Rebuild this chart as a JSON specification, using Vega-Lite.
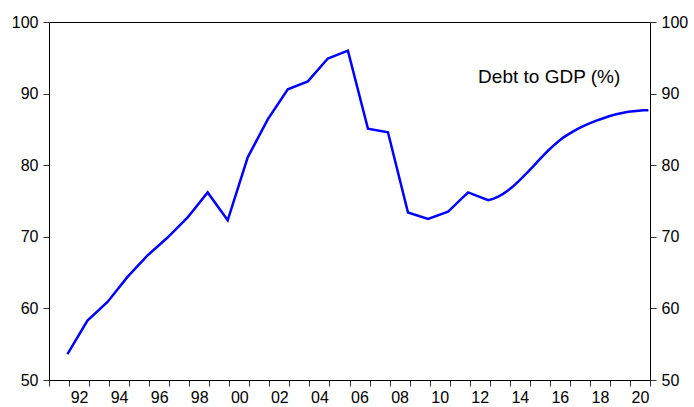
{
  "$schema": "https://vega.github.io/schema/vega-lite/v6.json",
  "width": 601,
  "height": 358,
  "autosize": {"type": "none"},
  "padding": {"left": 49, "top": 22, "right": 44, "bottom": 27},
  "background": "white",
  "config": {
    "view": {"stroke": "black", "strokeWidth": 1},
    "font": "Liberation Sans",
    "axis": {
      "labelFont": "Liberation Sans",
      "labelFontSize": 16,
      "labelColor": "black",
      "domainColor": "black",
      "tickColor": "#333333",
      "tickSize": 6,
      "grid": false,
      "title": null
    }
  },
  "datasets": {
    "debt": [
      {"t": 1991.92, "v": 53.6},
      {"t": 1992.92, "v": 58.3},
      {"t": 1993.92, "v": 60.9},
      {"t": 1994.92, "v": 64.4},
      {"t": 1995.92, "v": 67.4},
      {"t": 1996.92, "v": 69.9},
      {"t": 1997.92, "v": 72.7},
      {"t": 1998.92, "v": 76.2},
      {"t": 1999.92, "v": 72.3},
      {"t": 2000.92, "v": 81.1},
      {"t": 2001.92, "v": 86.4},
      {"t": 2002.92, "v": 90.6},
      {"t": 2003.92, "v": 91.7},
      {"t": 2004.92, "v": 94.9},
      {"t": 2005.92, "v": 96.0},
      {"t": 2006.92, "v": 85.1},
      {"t": 2007.92, "v": 84.6},
      {"t": 2008.92, "v": 73.4},
      {"t": 2009.92, "v": 72.5},
      {"t": 2010.92, "v": 73.5},
      {"t": 2011.92, "v": 76.2},
      {"t": 2012.92, "v": 75.1},
      {"t": 2013.17, "v": 75.3},
      {"t": 2013.42, "v": 75.6},
      {"t": 2013.67, "v": 76.0},
      {"t": 2013.92, "v": 76.5},
      {"t": 2014.17, "v": 77.05},
      {"t": 2014.42, "v": 77.7},
      {"t": 2014.67, "v": 78.4},
      {"t": 2014.92, "v": 79.1},
      {"t": 2015.17, "v": 79.85},
      {"t": 2015.42, "v": 80.6},
      {"t": 2015.67, "v": 81.35},
      {"t": 2015.92, "v": 82.05},
      {"t": 2016.17, "v": 82.7},
      {"t": 2016.42, "v": 83.3},
      {"t": 2016.67, "v": 83.85},
      {"t": 2016.92, "v": 84.3},
      {"t": 2017.17, "v": 84.72},
      {"t": 2017.42, "v": 85.1},
      {"t": 2017.67, "v": 85.45},
      {"t": 2017.92, "v": 85.77},
      {"t": 2018.17, "v": 86.06},
      {"t": 2018.42, "v": 86.32},
      {"t": 2018.67, "v": 86.56},
      {"t": 2018.92, "v": 86.8},
      {"t": 2019.17, "v": 87.0},
      {"t": 2019.42, "v": 87.18},
      {"t": 2019.67, "v": 87.33},
      {"t": 2019.92, "v": 87.46},
      {"t": 2020.17, "v": 87.55},
      {"t": 2020.42, "v": 87.62},
      {"t": 2020.67, "v": 87.66},
      {"t": 2020.92, "v": 87.68}
    ],
    "note": [
      {"t": 2012.42, "v": 91.5, "label": "Debt to GDP (%)"}
    ]
  },
  "encoding": {
    "x": {
      "field": "t",
      "type": "quantitative",
      "scale": {"domain": [1991, 2021], "nice": false, "zero": false},
      "axis": {
        "values": [1991,1992,1993,1994,1995,1996,1997,1998,1999,2000,2001,2002,2003,2004,2005,2006,2007,2008,2009,2010,2011,2012,2013,2014,2015,2016,2017,2018,2019,2020,2021],
        "labelExpr": "datum.value % 2 == 0 && datum.value < 2021 ? slice(toString(datum.value), 2) : ''",
        "labelOffset": 10,
        "labelOverlap": false,
        "labelFlush": false,
        "labelBound": false,
        "labelPadding": 3
      }
    }
  },
  "layer": [
    {
      "data": {"name": "debt"},
      "mark": {"type": "line", "color": "#0000FF", "strokeWidth": 2.5, "clip": true},
      "encoding": {
        "y": {
          "field": "v",
          "type": "quantitative",
          "scale": {"domain": [50, 100], "nice": false, "zero": false},
          "axis": {"orient": "left", "values": [50, 60, 70, 80, 90, 100], "labelPadding": 5, "labelFlush": false, "labelBound": false}
        }
      }
    },
    {
      "data": {"name": "debt"},
      "mark": {"type": "line", "strokeOpacity": 0},
      "encoding": {
        "y": {
          "field": "v",
          "type": "quantitative",
          "axis": {"orient": "right", "values": [50, 60, 70, 80, 90, 100], "labelPadding": 5, "labelFlush": false, "labelBound": false}
        }
      }
    },
    {
      "data": {"name": "note"},
      "mark": {"type": "text", "align": "left", "baseline": "alphabetic", "fontSize": 19, "font": "Liberation Sans", "color": "black"},
      "encoding": {
        "y": {"field": "v", "type": "quantitative", "axis": null},
        "text": {"field": "label"}
      }
    }
  ],
  "resolve": {"axis": {"y": "independent"}}
}
